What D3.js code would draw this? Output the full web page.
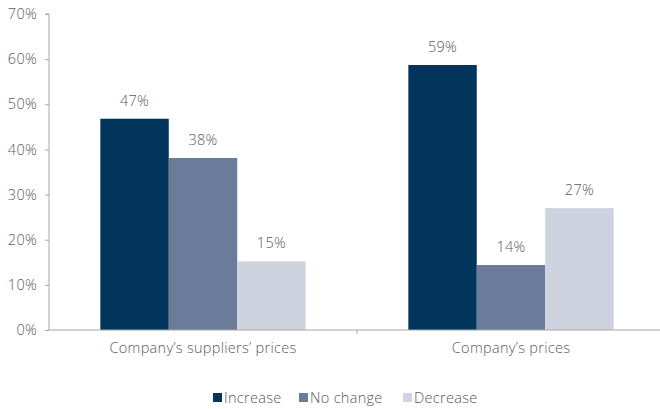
<!DOCTYPE html>
<html><head><meta charset="utf-8">
<script src="https://cdn.jsdelivr.net/npm/d3@7/dist/d3.min.js"></script>
<style>body{margin:0;background:#fff}svg{display:block}text{font-family:"Open Sans",sans-serif;font-weight:300;fill:#595959;letter-spacing:0.3px}</style>
</head><body><svg id="c" width="660" height="409"></svg>
<script>
const categories = ["Company\u2019s suppliers\u2019 prices", "Company\u2019s prices"];
const seriesNames = ["Increase", "No change", "Decrease"];
const increase = [46.8, 58.7];
const noChange = [38.1, 14.4];
const decrease = [15.2, 27.0];
const valueLabels = [["47%", "38%", "15%"], ["59%", "14%", "27%"]];
const yTicks = [0, 10, 20, 30, 40, 50, 60, 70];
const colors = ["#02355b", "#6b7b9a", "#ced3df"];
const FONT = '"Open Sans",sans-serif';
const FS = "14.5px";

const svg = d3.select("#c");
const series = [increase, noChange, decrease];
const x0 = d3.scaleBand().domain(categories).range([49, 665]).paddingInner(1/3).paddingOuter(1/6);
const x1 = d3.scaleBand().domain(seriesNames).range([0, x0.bandwidth()]);
const y = d3.scaleLinear().domain([0, 70]).range([330, 14]);

// y axis
const ya = svg.append("g").attr("transform", "translate(49,0)")
  .call(d3.axisLeft(y).tickValues(yTicks).tickFormat(d => d + "%").tickSize(4).tickPadding(8));
ya.selectAll("path,line").attr("stroke", "#a6a6a6");
ya.selectAll("text").style("font-size", FS).attr("fill", "#595959").style("font-family", FONT);
ya.select(".domain").attr("d", "M-4," + y(70) + "H0V" + y(0));

// bars
categories.forEach((c, i) => {
  series.forEach((s, j) => {
    const bx = x0(c) + x1(seriesNames[j]);
    svg.append("rect").attr("x", bx).attr("y", y(s[i]))
      .attr("width", x1.bandwidth()).attr("height", y(0) - y(s[i])).attr("fill", colors[j]);
    svg.append("text").attr("x", bx + x1.bandwidth() / 2).attr("y", y(s[i]) - 13)
      .attr("text-anchor", "middle").style("font-size", FS).text(valueLabels[i][j]);
  });
});

// x axis
const xa = svg.append("g").attr("transform", "translate(0,330)")
  .call(d3.axisBottom(x0).tickSize(0).tickPadding(13));
xa.select(".domain").attr("stroke", "#a6a6a6").attr("d", "M49,0H665");
xa.selectAll("text").style("font-size", FS).attr("fill", "#595959").style("font-family", FONT);
// boundary tick between categories
svg.append("line").attr("x1", x0.range()[0] + x0.step()).attr("x2", x0.range()[0] + x0.step())
  .attr("y1", 330).attr("y2", 334).attr("stroke", "#a6a6a6");

// legend
const legX = [213, 299, 403];
const lg = svg.append("g");
seriesNames.forEach((n, j) => {
  lg.append("rect").attr("x", legX[j]).attr("y", 393).attr("width", 9).attr("height", 9).attr("fill", colors[j]);
  lg.append("text").attr("x", legX[j] + 11).attr("y", 403).style("font-size", FS).text(n);
});
</script></body></html>
